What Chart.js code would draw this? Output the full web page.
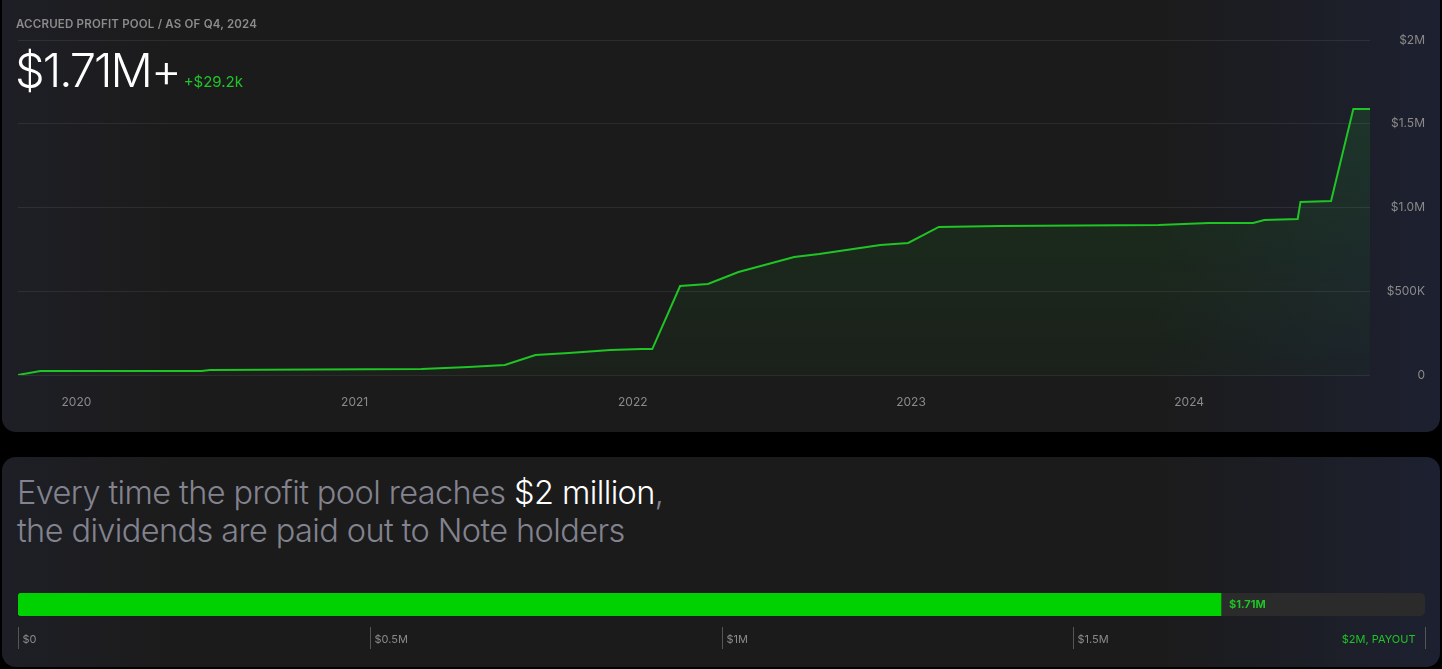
<!DOCTYPE html>
<html><head><meta charset="utf-8">
<script src="https://cdn.jsdelivr.net/npm/chart.js@4/dist/chart.umd.min.js"></script>
<style>
html,body{margin:0;padding:0;background:#000;width:1442px;height:669px;overflow:hidden;font-family:Inter,"Noto Sans",sans-serif}
.card{position:absolute;left:2px;width:1438px;border-radius:14px;background:linear-gradient(90deg,#1e1f26 0%,#1b1b1b 12%,#1b1b1b 80%,#1d2030 100%);overflow:hidden}
#c1{top:-14px;height:446px}
#c2{top:457px;height:210px}
.lbl{position:absolute;left:16px;top:17px;color:#8b8b8b;font-size:11.5px;font-weight:600;letter-spacing:0.2px;z-index:2}
.big{position:absolute;left:15px;top:42px;color:#fff;font-size:47px;font-weight:300;letter-spacing:-2px;z-index:2;line-height:56px}
.big span{font-size:15px;color:#22c32a;font-weight:400;letter-spacing:0;margin-left:4px}
.head{position:absolute;left:17px;top:474px;color:#83838f;font-size:32.5px;font-weight:300;line-height:38px;letter-spacing:-0.6px}
.head b{color:#fff;font-weight:300}
canvas{position:absolute}
</style></head><body>
<div class="card" id="c1"></div>
<div class="card" id="c2"></div>
<div class="lbl">ACCRUED PROFIT POOL / AS OF Q4, 2024</div>
<div class="big">$1.71M+<span>+$29.2k</span></div>
<div class="head">Every time the profit pool reaches <b>$2 million</b>,<br>the dividends are paid out to Note holders</div>
<div style="position:absolute;left:0;top:0;width:1442px;height:432px"><canvas id="top"></canvas></div>
<div style="position:absolute;left:0;top:580px;width:1442px;height:80px"><canvas id="bot"></canvas></div>
<script>
const years = [2019.79,2019.87,2020.45,2020.48,2021.24,2021.41,2021.54,2021.65,2021.77,2021.92,2022.03,2022.07,2022.17,2022.27,2022.38,2022.58,2022.67,2022.89,2022.99,2023.10,2023.32,2023.89,2024.07,2024.23,2024.27,2024.39,2024.40,2024.51,2024.59,2024.65];
const pool = [0,0.024,0.024,0.03,0.036,0.048,0.06,0.119,0.131,0.149,0.155,0.155,0.531,0.543,0.615,0.704,0.722,0.776,0.788,0.884,0.89,0.896,0.907,0.907,0.925,0.931,1.033,1.039,1.588,1.588];
const yTicks = {0:'0',0.5:'$500K',1:'$1.0M',1.5:'$1.5M',2:'$2M'};
const payoutTicks = [0,0.5,1,1.5,2];
const payoutLabels = ['$0','$0.5M','$1M','$1.5M','$2M, PAYOUT'];
const current = 1.71, target = 2;

Chart.defaults.font.family = 'Inter, "Noto Sans", sans-serif';
const ctx = document.getElementById('top').getContext('2d');
const grad = ctx.createLinearGradient(0,100,0,375);
grad.addColorStop(0,'rgba(34,195,42,0.14)');grad.addColorStop(1,'rgba(34,195,42,0.03)');
new Chart(ctx,{type:'line',
 data:{datasets:[{data:years.map((x,i)=>({x,y:pool[i]})),borderColor:'#1fc425',borderWidth:2,pointRadius:0,fill:'origin',backgroundColor:grad,tension:0}]},
 options:{responsive:true,maintainAspectRatio:false,animation:false,
  layout:{padding:{left:18,right:17,top:40,bottom:20}},
  plugins:{legend:{display:false},tooltip:{enabled:false}},
  scales:{
   x:{type:'linear',min:2019.79,max:2024.65,grid:{display:false},border:{display:false},
      afterBuildTicks:s=>{s.ticks=[2020,2021,2022,2023,2024].map(v=>({value:v}));},
      ticks:{color:'#8a8a8a',font:{size:12},padding:12,callback:v=>String(v),maxRotation:0},
      afterFit:s=>{s.height=37;}},
   y:{position:'right',min:0,max:2,border:{display:false},
      grid:{color:'rgba(255,255,255,0.08)',drawTicks:false,tickBorderDash:[],lineWidth:1},
      afterBuildTicks:s=>{s.ticks=[0,0.5,1,1.5,2].map(v=>({value:v}));},
      ticks:{color:'#8a8a8a',font:{size:12},crossAlign:'far',callback:v=>yTicks[v]},
      afterFit:s=>{s.width=55;}}
  }}});

const tickPlugin={id:'tk',afterDraw(c){
 const g=c.ctx,xs=c.scales.x;g.save();
 g.font='11px Inter, "Noto Sans", sans-serif';g.textBaseline='middle';
 payoutTicks.forEach((v,i)=>{const px=Math.round(xs.getPixelForValue(v))+0.5;
  g.strokeStyle='#555';g.lineWidth=1;g.beginPath();g.moveTo(px,47);g.lineTo(px,69);g.stroke();
  const last=i===payoutTicks.length-1;
  g.fillStyle=last?'#1fc425':'#8a8a8a';g.textAlign=last?'right':'left';
  g.fillText(payoutLabels[i],last?px-10:px+4,60);});
 g.font='bold 11px Inter, "Noto Sans", sans-serif';g.fillStyle='#1fc425';g.textAlign='left';
 g.fillText('$'+current+'M',xs.getPixelForValue(current)+8,25);
 g.restore();}};
new Chart(document.getElementById('bot'),{type:'bar',
 data:{labels:['pool'],datasets:[
  {data:[current],backgroundColor:'#00d100',borderRadius:{topLeft:4,bottomLeft:4},borderSkipped:false,grouped:false,order:0},
  {data:[target],backgroundColor:'#2b2b2b',borderRadius:6,borderSkipped:false,grouped:false,order:1}]},
 options:{indexAxis:'y',responsive:true,maintainAspectRatio:false,animation:false,
  layout:{padding:{left:18,right:17,top:13,bottom:44}},
  datasets:{bar:{barPercentage:1,categoryPercentage:1}},
  plugins:{legend:{display:false},tooltip:{enabled:false}},
  scales:{x:{display:false,min:0,max:2},y:{display:false}}},
 plugins:[tickPlugin]});
</script></body></html>
